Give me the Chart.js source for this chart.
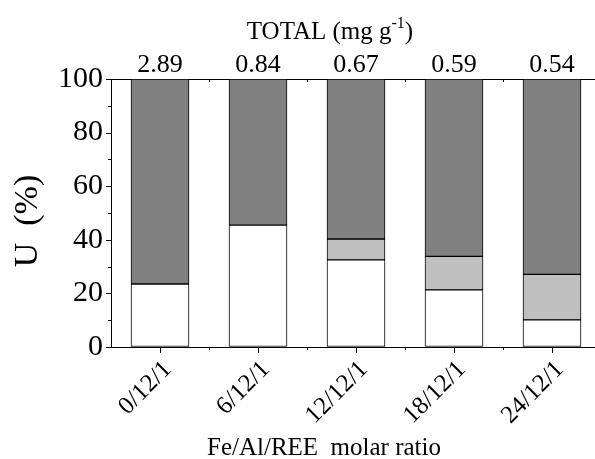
<!DOCTYPE html>
<html>
<head>
<meta charset="utf-8">
<script src="https://cdn.jsdelivr.net/npm/chart.js@4.4.1/dist/chart.umd.min.js"></script>
<style>
  html, body { margin: 0; padding: 0; background: #fff; overflow: hidden; }
  #wrap { width: 595px; height: 459px; overflow: hidden; }
</style>
</head>
<body>
<div id="wrap"><canvas id="grafico" width="601" height="459"></canvas></div>
<script>
// data
const ratios = ['0/12/1', '6/12/1', '12/12/1', '18/12/1', '24/12/1'];
const totals = ['2.89', '0.84', '0.67', '0.59', '0.54'];
const parteBlanca = [23.5, 45.5, 32.5, 21.3, 10.1];
const parteClara = [0, 0, 7.8, 12.5, 17.0];
const parteOscura = [76.5, 54.5, 59.7, 66.2, 72.9];
const yTicks = [0, 20, 40, 60, 80, 100];

const serif = "'Liberation Serif', 'Times New Roman', serif";

// tick marks + titles drawn on top of the scales
const decoracion = {
    id: 'decoracion',
    afterDraw(chart) {
        const { ctx, chartArea: a, scales } = chart;
        const x = scales.x, y = scales.y;
        ctx.save();
        ctx.strokeStyle = '#000';
        ctx.lineWidth = 1;
        ctx.beginPath();
        // y: major every 20, minor every 10
        for (let v = 0; v <= 100; v += 10) {
            const py = Math.round(y.getPixelForValue(v)) + 0.5;
            const len = yTicks.includes(v) ? 5 : 3;
            ctx.moveTo(a.left - len, py);
            ctx.lineTo(a.left, py);
        }
        // x: major at categories, minor between them (bottom and top)
        const paso = x.getPixelForValue(1) - x.getPixelForValue(0);
        ratios.forEach((r, i) => {
            const px = Math.round(x.getPixelForValue(i)) + 0.5;
            ctx.moveTo(px, a.bottom);
            ctx.lineTo(px, a.bottom + 6);
            const mx = Math.round(x.getPixelForValue(i) + paso / 2) + 0.5;
            ctx.moveTo(mx, a.bottom);
            ctx.lineTo(mx, a.bottom + 3);
            ctx.moveTo(mx, a.top);
            ctx.lineTo(mx, a.top + 3);
        });
        ctx.stroke();

        ctx.fillStyle = '#000';
        // y title
        ctx.save();
        ctx.translate(28, 221);
        ctx.rotate(-Math.PI / 2);
        ctx.font = '34px ' + serif;
        ctx.textAlign = 'center';
        ctx.textBaseline = 'middle';
        ctx.fillText('U  (%)', 0, 0);
        ctx.restore();

        // x title
        ctx.font = '25px ' + serif;
        ctx.textAlign = 'center';
        ctx.textBaseline = 'alphabetic';
        ctx.fillText('Fe/Al/REE  molar ratio', 324, 455);

        // top title with superscript
        const main = 'TOTAL (mg g';
        const sup = '-1';
        const end = ')';
        ctx.font = '25px ' + serif;
        const w1 = ctx.measureText(main).width;
        const w3 = ctx.measureText(end).width;
        ctx.font = '16px ' + serif;
        const w2 = ctx.measureText(sup).width;
        const sx = 330 - (w1 + w2 + w3) / 2;
        ctx.textAlign = 'left';
        ctx.font = '25px ' + serif;
        ctx.fillText(main, sx, 39);
        ctx.font = '16px ' + serif;
        ctx.fillText(sup, sx + w1, 28);
        ctx.font = '25px ' + serif;
        ctx.fillText(end, sx + w1 + w2, 39);
        ctx.restore();
    }
};

const comun = {
    borderColor: '#000',
    borderWidth: 1,
    borderSkipped: false,
    barThickness: 58
};

new Chart(document.getElementById('grafico').getContext('2d'), {
    type: 'bar',
    data: {
        labels: ratios,
        datasets: [
            { label: 'blanca', data: parteBlanca, backgroundColor: '#ffffff', ...comun },
            { label: 'clara', data: parteClara, backgroundColor: '#c0c0c0', ...comun },
            { label: 'oscura', data: parteOscura, backgroundColor: '#808080', ...comun }
        ]
    },
    options: {
        responsive: false,
        animation: false,
        devicePixelRatio: 1,
        layout: { padding: 0 },
        plugins: {
            legend: { display: false },
            tooltip: { enabled: false }
        },
        scales: {
            x: {
                stacked: true,
                offset: true,
                position: 'bottom',
                grid: { display: true, drawOnChartArea: false, drawTicks: false, color: 'rgba(0,0,0,0)' },
                border: { display: true, color: '#000', width: 1 },
                ticks: {
                    color: '#000',
                    font: { family: serif, size: 25 },
                    minRotation: 45,
                    maxRotation: 45,
                    padding: 8,
                    labelOffset: 8
                },
                afterFit: s => { s.height = 112; }
            },
            xTop: {
                type: 'category',
                labels: totals,
                position: 'top',
                offset: true,
                grid: { display: true, drawOnChartArea: false, drawTicks: false, color: 'rgba(0,0,0,0)' },
                border: { display: true, color: '#000', width: 1 },
                ticks: {
                    color: '#000',
                    font: { family: serif, size: 26 },
                    maxRotation: 0,
                    padding: -2
                },
                afterFit: s => { s.height = 79; }
            },
            y: {
                stacked: true,
                min: 0,
                max: 100,
                grid: { display: true, drawOnChartArea: false, drawTicks: false, color: 'rgba(0,0,0,0)' },
                border: { display: true, color: '#000', width: 1 },
                ticks: {
                    color: '#000',
                    stepSize: 20,
                    font: { family: serif, size: 30 },
                    padding: 8
                },
                afterFit: s => { s.width = 111; }
            }
        }
    },
    plugins: [decoracion]
});
</script>
</body>
</html>
